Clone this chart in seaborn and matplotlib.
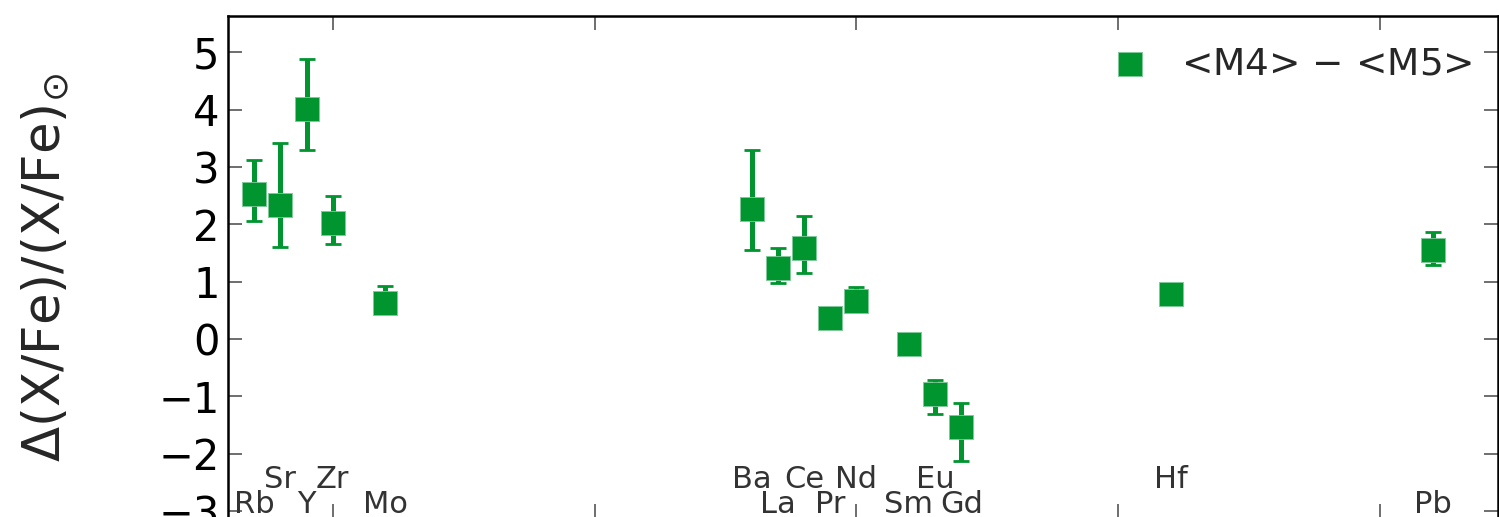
import numpy as np
import pandas as pd
import matplotlib
matplotlib.use('Agg')
import matplotlib.pyplot as plt
import seaborn as sns

elements = ['Rb', 'Sr', 'Y', 'Zr', 'Mo', 'Ba', 'La', 'Ce', 'Pr', 'Nd', 'Sm', 'Eu', 'Gd', 'Hf', 'Pb']
atomic_number = [37, 38, 39, 40, 42, 56, 57, 58, 59, 60, 62, 63, 64, 72, 82]
delta = [2.53, 2.34, 4.02, 2.03, 0.63, 2.26, 1.24, 1.58, 0.37, 0.67, -0.08, -0.96, -1.53, 0.78, 1.55]
err_low = [0.48, 0.73, 0.73, 0.38, 0.10, 0.71, 0.27, 0.43, 0.0, 0.08, 0.0, 0.34, 0.59, 0.0, 0.26]
err_high = [0.59, 1.07, 0.87, 0.47, 0.29, 1.03, 0.35, 0.57, 0.0, 0.24, 0.0, 0.25, 0.42, 0.0, 0.31]
series_label = '<M4> $-$ <M5>'
ylabel = r'$\Delta$(X/Fe)/(X/Fe)$_{\odot}$'
yticks = [-3, -2, -1, 0, 1, 2, 3, 4, 5]
xticks = [40, 50, 60, 70, 80]

green = '#00952f'

sns.set_style('white')
plt.rcParams['font.family'] = ['DejaVu Sans']
plt.rcParams['mathtext.fontset'] = 'dejavusans'

df = pd.DataFrame({'Z': atomic_number, 'delta': delta, 'el': elements})

fig = plt.figure(figsize=(14.99, 5.17), dpi=100)
ax = fig.add_axes([228 / 1499, -1 / 517, 1270 / 1499, 502 / 517])

ax.errorbar(atomic_number, delta, yerr=[err_low, err_high], fmt='none',
            ecolor=green, elinewidth=3.6, capsize=6, capthick=2, zorder=2)
sns.scatterplot(data=df, x='Z', y='delta', marker='s', s=275, color=green,
                edgecolor='#7fc999', linewidth=0.6, ax=ax, label=series_label, zorder=3)

ax.set_xlim(36, 84.5)
ax.set_ylim(-3.12, 5.633)
ax.set_xticks(xticks)
ax.set_yticks(yticks)
ax.set_xlabel('')
ax.set_ylabel(ylabel, fontsize=37)
ax.yaxis.set_label_coords(-0.124, 0.5)

for sp in ax.spines.values():
    sp.set_color('black')
    sp.set_linewidth(1.8)

ax.tick_params(axis='both', direction='in', length=10, width=1.2, color='#555555',
               top=True, right=True, bottom=True, left=True, labelbottom=False,
               labelsize=30, pad=6, labelcolor='black')

for i, (z, el) in enumerate(zip(atomic_number, elements)):
    yy = -2.60 if i % 2 else -3.04
    ax.text(z, yy, el, ha='center', va='baseline', fontsize=22, color='#333333')

leg = ax.legend(loc='upper right', bbox_to_anchor=(0.9795, 0.94), frameon=False,
                fontsize=27, handlelength=1.0, handletextpad=0.86,
                borderaxespad=0, borderpad=0)

fig.savefig('out.png', dpi=100)
